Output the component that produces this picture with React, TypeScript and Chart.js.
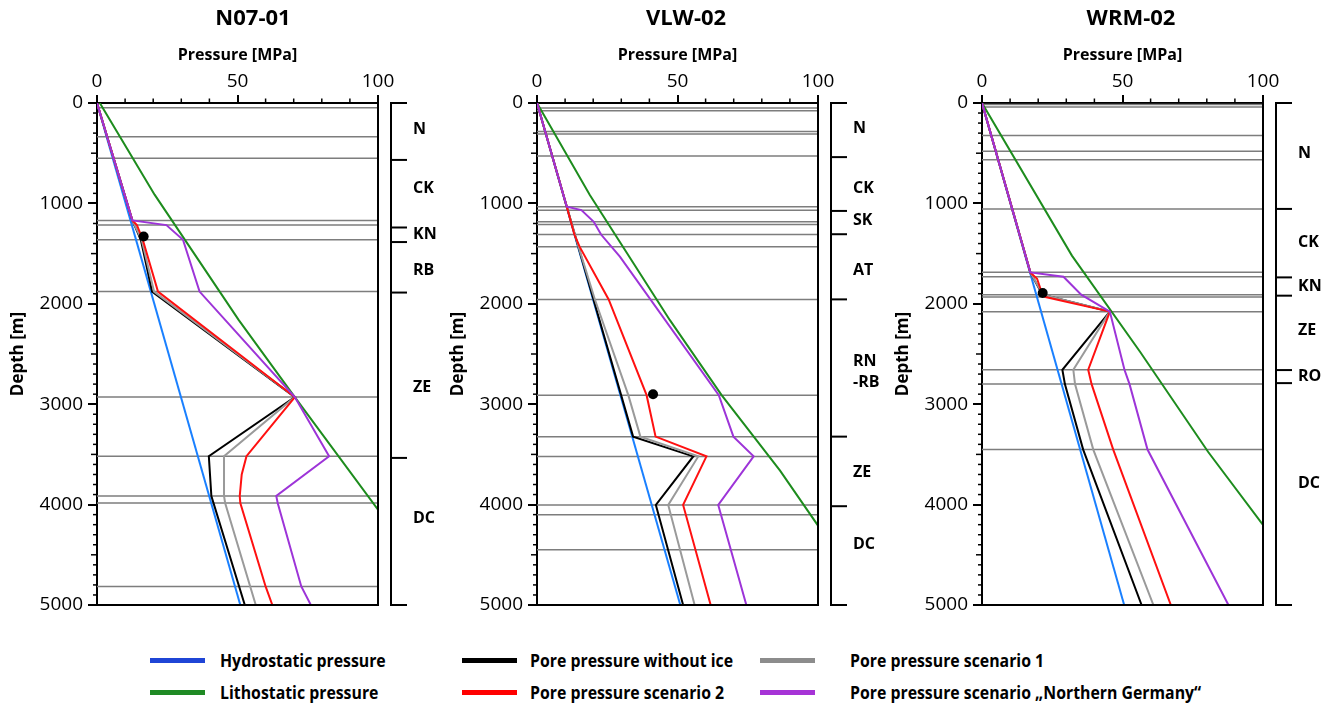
import React, { useEffect, useRef } from "react";
import { Chart, registerables } from "chart.js";

Chart.register(...registerables);

type Pt = [number, number]; // [depth m, pressure MPa]

const FONT = "'Open Sans', 'DejaVu Sans', sans-serif";
const LEGEND_FONT = "'Open Sans', sans-serif";

// ---------- N07-01 ----------
const N07_HYDRO: Pt[] = [[0, 0], [5000, 51]];
const N07_LITHO: Pt[] = [[0, 1], [913, 20.5], [2160, 50.4], [2929, 70.4], [4050, 100]];
const N07_NOICE: Pt[] = [[0, 0], [1170, 12.6], [1362, 15.6], [1878, 19.6], [2929, 70.4], [3518, 39.8], [3914, 40.7], [5000, 52.6]];
const N07_SC1: Pt[] = [[0, 0], [1170, 12.6], [1362, 15.9], [1878, 20.3], [2929, 70.4], [3518, 45.2], [3914, 45.2], [3984, 45.6], [5000, 56.5]];
const N07_SC2: Pt[] = [[0, 0], [1170, 12.6], [1216, 14.2], [1362, 16.3], [1878, 21.7], [2929, 70.4], [3518, 53.2], [3700, 51.5], [3914, 50.8], [3984, 51.0], [4815, 60.0], [5000, 62.4]];
const N07_NG: Pt[] = [[0, 0], [1170, 12.6], [1216, 24.7], [1362, 30.6], [1878, 36.5], [2929, 70.4], [3518, 82.6], [3914, 63.8], [3984, 64.3], [4815, 72.7], [5000, 76.1]];
const N07_DOT: Pt[] = [[1329, 16.6]];
const N07_LAYERS = [48, 337, 551, 1170, 1216, 1362, 1878, 2929, 3518, 3914, 3984, 4815];
const N07_BOUNDS = [0, 567, 1240, 1385, 1888, 3535, 5000];
const N07_UNITS = ["N", "CK", "KN", "RB", "ZE", "DC"];
const N07_UNIT_DEPTHS = [264, 853, 1305, 1672, 2836, 4140];

// ---------- VLW-02 ----------
const VLW_HYDRO: Pt[] = [[0, 0], [5000, 51]];
const VLW_LITHO: Pt[] = [[0, 0], [916, 18.8], [2163, 47.3], [2910, 65.7], [3661, 86.5], [4209, 100]];
const VLW_NOICE: Pt[] = [[0, 0], [1033, 10.6], [3323, 34.2], [3520, 55.6], [4003, 42.3], [5000, 52]];
const VLW_SC1: Pt[] = [[0, 0], [1033, 10.6], [1433, 14.8], [1957, 20.6], [2910, 32.5], [3323, 36.8], [3520, 57.4], [4003, 46.7], [5000, 56.1]];
const VLW_SC2: Pt[] = [[0, 0], [1033, 10.6], [1310, 13.3], [1433, 15.2], [1957, 25.5], [2910, 39], [3323, 42.2], [3520, 60.3], [4003, 52], [5000, 61.8]];
const VLW_NG: Pt[] = [[0, 0], [1033, 10.6], [1067, 15.8], [1183, 20.2], [1310, 22.8], [1531, 29.5], [2910, 64.7], [3323, 69.9], [3520, 77.1], [4003, 64.5], [5000, 74.5]];
const VLW_DOT: Pt[] = [[2901, 41.3]];
const VLW_LAYERS = [50, 77, 284, 310, 527, 1033, 1067, 1183, 1210, 1310, 1433, 1957, 2910, 3323, 3520, 4003, 4100, 4450];
const VLW_BOUNDS = [0, 539, 1075, 1307, 1956, 3323, 4016, 5000];
const VLW_UNITS = ["N", "CK", "SK", "AT", "RN\n-RB", "ZE", "DC"];
const VLW_UNIT_DEPTHS = [250, 848, 1172, 1671, 2682, 3683, 4401];

// ---------- WRM-02 ----------
const WRM_HYDRO: Pt[] = [[0, 0], [5000, 50.6]];
const WRM_LITHO: Pt[] = [[0, 0], [1520, 32], [2480, 56.3], [3476, 80.5], [4203, 100]];
const WRM_NOICE: Pt[] = [[0, 0], [1687, 17.2], [1909, 21.5], [2078, 45.5], [2657, 28.6], [2800, 29.5], [3452, 36], [5000, 56.8]];
const WRM_SC1: Pt[] = [[0, 0], [1687, 17.2], [1909, 21.7], [2078, 45.5], [2657, 32.5], [2800, 33.1], [3452, 39.6], [5000, 61]];
const WRM_SC2: Pt[] = [[0, 0], [1687, 17.2], [1750, 19.6], [1909, 21.5], [1932, 22.6], [2078, 45.5], [2657, 37.8], [2800, 39], [3452, 46.7], [5000, 67.2]];
const WRM_NG: Pt[] = [[0, 0], [1687, 17.2], [1730, 29], [1909, 35.3], [2078, 45.5], [2657, 50.7], [2800, 52.5], [3452, 58.9], [5000, 87.7]];
const WRM_DOT: Pt[] = [[1892, 21.6]];
const WRM_LAYERS = [15, 40, 324, 481, 566, 1055, 1687, 1730, 1909, 1932, 2078, 2657, 2800, 3452];
const WRM_BOUNDS = [0, 1055, 1737, 1919, 2660, 2790, 5000];
const WRM_UNITS = ["N", "CK", "KN", "ZE", "RO", "DC"];
const WRM_UNIT_DEPTHS = [506, 1391, 1830, 2261, 2727, 3787];

// ---------- axis ticks ----------
const X_TICK_STEP = 50;
const Y_TICK_STEP = 1000;
const X_MINOR_STEP = 10;
const Y_MINOR_STEP = 100;

// ---------- legend ----------
const SERIES_LABELS = [
  "Hydrostatic pressure",
  "Lithostatic pressure",
  "Pore pressure without ice",
  "Pore pressure scenario 2",
  "Pore pressure scenario 1",
  "Pore pressure scenario \u201ENorthern Germany\u201C",
];

const COLORS = {
  blue: "#1a80ff",
  green: "#1d8c1d",
  black: "#000000",
  gray: "#9a9a9a",
  red: "#ff1010",
  purple: "#9d34d8",
};
const LEGEND_COLORS = ["#1f45d6", "#1f8a24", "#000000", "#ff0000", "#8c8c8c", "#a633d6"];

type Panel = {
  name: string;
  left: number;
  rightSpace: number;
  hydro: Pt[];
  litho: Pt[];
  noIce: Pt[];
  sc1: Pt[];
  sc2: Pt[];
  ng: Pt[];
  dot: Pt[];
  layers: number[];
  bounds: number[];
  units: string[];
  unitDepths: number[];
};

const PANELS: Panel[] = [
  { name: "N07-01", left: 0, rightSpace: 128, hydro: N07_HYDRO, litho: N07_LITHO, noIce: N07_NOICE, sc1: N07_SC1, sc2: N07_SC2, ng: N07_NG, dot: N07_DOT, layers: N07_LAYERS, bounds: N07_BOUNDS, units: N07_UNITS, unitDepths: N07_UNIT_DEPTHS },
  { name: "VLW-02", left: 440, rightSpace: 114, hydro: VLW_HYDRO, litho: VLW_LITHO, noIce: VLW_NOICE, sc1: VLW_SC1, sc2: VLW_SC2, ng: VLW_NG, dot: VLW_DOT, layers: VLW_LAYERS, bounds: VLW_BOUNDS, units: VLW_UNITS, unitDepths: VLW_UNIT_DEPTHS },
  { name: "WRM-02", left: 885, rightSpace: 114, hydro: WRM_HYDRO, litho: WRM_LITHO, noIce: WRM_NOICE, sc1: WRM_SC1, sc2: WRM_SC2, ng: WRM_NG, dot: WRM_DOT, layers: WRM_LAYERS, bounds: WRM_BOUNDS, units: WRM_UNITS, unitDepths: WRM_UNIT_DEPTHS },
];

const CANVAS_H = 620;

function toXY(pts: Pt[]) {
  return pts.map(([d, p]) => ({ x: p, y: d }));
}

function lineDs(label: string, pts: Pt[], color: string) {
  return {
    label,
    data: toXY(pts),
    showLine: true,
    borderColor: color,
    backgroundColor: color,
    borderWidth: 2,
    pointRadius: 0,
    pointHoverRadius: 0,
    tension: 0,
    fill: false,
  };
}

function decor(p: Panel) {
  return {
    id: "decor",
    beforeDatasetsDraw(chart: any) {
      const { ctx, chartArea: a, scales } = chart;
      const y = scales.y;
      ctx.save();
      ctx.strokeStyle = "#7d7d7d";
      ctx.lineWidth = 1.5;
      for (const d of p.layers) {
        const py = y.getPixelForValue(d);
        ctx.beginPath();
        ctx.moveTo(a.left, py);
        ctx.lineTo(a.right, py);
        ctx.stroke();
      }
      ctx.restore();
    },
    afterDraw(chart: any) {
      const { ctx, chartArea: a, scales } = chart;
      const x = scales.x;
      const y = scales.y;
      ctx.save();
      ctx.strokeStyle = "#000";
      ctx.lineWidth = 2;
      // right and bottom frame
      ctx.beginPath();
      ctx.moveTo(a.right, a.top - 1);
      ctx.lineTo(a.right, a.bottom);
      ctx.lineTo(a.left - 1, a.bottom);
      ctx.stroke();
      // minor ticks
      ctx.lineWidth = 1.5;
      for (let v = X_MINOR_STEP; v < 100; v += X_MINOR_STEP) {
        if (v % X_TICK_STEP === 0) continue;
        const px = x.getPixelForValue(v);
        ctx.beginPath();
        ctx.moveTo(px, a.top);
        ctx.lineTo(px, a.top - 4.5);
        ctx.stroke();
      }
      for (let v = Y_MINOR_STEP; v < 5000; v += Y_MINOR_STEP) {
        if (v % Y_TICK_STEP === 0) continue;
        const py = y.getPixelForValue(v);
        const len = v % 500 === 0 ? 6 : 4;
        ctx.beginPath();
        ctx.moveTo(a.left, py);
        ctx.lineTo(a.left - len, py);
        ctx.stroke();
      }
      // stratigraphic column
      const cx = a.right + 13;
      ctx.lineWidth = 2;
      ctx.beginPath();
      ctx.moveTo(cx, y.getPixelForValue(0));
      ctx.lineTo(cx, y.getPixelForValue(5000));
      ctx.stroke();
      for (const b of p.bounds) {
        const py = y.getPixelForValue(b);
        ctx.beginPath();
        ctx.moveTo(cx - 1, py);
        ctx.lineTo(a.right + 29, py);
        ctx.stroke();
      }
      ctx.fillStyle = "#000";
      ctx.font = `bold 16px ${FONT}`;
      ctx.textAlign = "left";
      ctx.textBaseline = "middle";
      p.units.forEach((u, i) => {
        const py = y.getPixelForValue(p.unitDepths[i]);
        const lines = u.split("\n");
        lines.forEach((ln, j) => {
          ctx.fillText(ln, a.right + 35, py + (j - (lines.length - 1) / 2) * 21);
        });
      });
      ctx.restore();
    },
  };
}

function PanelChart({ p }: { p: Panel }) {
  const ref = useRef<HTMLCanvasElement | null>(null);
  useEffect(() => {
    if (!ref.current) return;
    const chart = new Chart(ref.current, {
      type: "scatter",
      data: {
        datasets: [
          {
            label: "Measurement",
            data: toXY(p.dot),
            showLine: false,
            pointRadius: 5,
            pointBackgroundColor: "#000",
            pointBorderColor: "#000",
            pointBorderWidth: 0,
          } as any,
          lineDs(SERIES_LABELS[5], p.ng, COLORS.purple),
          lineDs(SERIES_LABELS[3], p.sc2, COLORS.red),
          lineDs(SERIES_LABELS[4], p.sc1, COLORS.gray),
          lineDs(SERIES_LABELS[2], p.noIce, COLORS.black),
          lineDs(SERIES_LABELS[0], p.hydro, COLORS.blue),
          lineDs(SERIES_LABELS[1], p.litho, COLORS.green),
        ],
      },
      options: {
        responsive: false,
        animation: false,
        events: [],
        layout: { padding: { left: 0, right: 0, top: 0, bottom: CANVAS_H - 605 } },
        plugins: {
          legend: { display: false },
          tooltip: { enabled: false },
          title: {
            display: true,
            text: p.name,
            color: "#000",
            font: { family: FONT, size: 22, weight: "bold" },
            padding: { top: 6, bottom: 0 },
          },
        },
        scales: {
          x: {
            type: "linear",
            position: "top",
            min: 0,
            max: 100,
            ticks: {
              stepSize: X_TICK_STEP,
              color: "#000",
              font: { family: FONT, size: 19 },
              padding: 2,
              callback: (v: any) => String(v),
            },
            grid: { drawOnChartArea: false, drawTicks: true, tickLength: 8, color: "#000", lineWidth: 2 },
            border: { display: true, color: "#000", width: 2 },
            title: {
              display: true,
              text: "Pressure [MPa]",
              color: "#000",
              font: { family: FONT, size: 16, weight: "bold" },
              padding: { top: 13, bottom: 0 },
            },
            afterFit: (s: any) => {
              s.height = 70.6;
              s.paddingLeft = 0;
              s.paddingRight = 0;
            },
          },
          y: {
            type: "linear",
            position: "left",
            reverse: true,
            min: 0,
            max: 5000,
            ticks: {
              stepSize: Y_TICK_STEP,
              color: "#000",
              font: { family: FONT, size: 19 },
              padding: 5,
              callback: (v: any) => String(v),
            },
            grid: { drawOnChartArea: false, drawTicks: true, tickLength: 9, color: "#000", lineWidth: 2 },
            border: { display: true, color: "#000", width: 2 },
            title: {
              display: true,
              text: "Depth [m]",
              color: "#000",
              font: { family: FONT, size: 17, weight: "bold" },
              padding: { top: 8, bottom: 0 },
            },
            afterFit: (s: any) => {
              s.width = 97;
              s.paddingTop = 0;
              s.paddingBottom = 0;
            },
          },
          yr: {
            type: "linear",
            axis: "y",
            position: "right",
            display: true,
            grid: { display: false, drawTicks: false },
            ticks: { display: false },
            border: { display: false },
            afterFit: (s: any) => {
              s.width = p.rightSpace;
              s.paddingTop = 0;
              s.paddingBottom = 0;
            },
          },
        },
      } as any,
      plugins: [decor(p)],
    });
    return () => chart.destroy();
  }, [p]);
  const width = 97 + 281 + p.rightSpace;
  return (
    <canvas
      ref={ref}
      width={width}
      height={CANVAS_H}
      style={{ position: "absolute", left: p.left, top: 0, width, height: CANVAS_H, display: "block" }}
    />
  );
}

const LEGEND_ITEMS = [
  { i: 0, sx: 150, tx: 220, cy: 660 },
  { i: 1, sx: 150, tx: 220, cy: 692 },
  { i: 2, sx: 462, tx: 530, cy: 660 },
  { i: 3, sx: 462, tx: 530, cy: 692 },
  { i: 4, sx: 760, tx: 850, cy: 660 },
  { i: 5, sx: 760, tx: 850, cy: 692 },
];

export default function App() {
  return (
    <div
      style={{
        position: "absolute",
        left: 0,
        top: 0,
        width: 1333,
        height: 706,
        overflow: "hidden",
        background: "#fff",
      }}
    >
      {PANELS.map((p) => (
        <PanelChart key={p.name} p={p} />
      ))}
      {LEGEND_ITEMS.map((it) => (
        <React.Fragment key={it.i}>
          <div
            style={{
              position: "absolute",
              left: it.sx,
              top: it.cy - 2.5,
              width: 55,
              height: 5,
              background: LEGEND_COLORS[it.i],
            }}
          />
          <div
            style={{
              position: "absolute",
              left: it.tx,
              top: it.cy - 13,
              height: 26,
              lineHeight: "26px",
              fontFamily: LEGEND_FONT,
              fontWeight: 700,
              fontSize: 18,
              color: "#000",
              whiteSpace: "nowrap",
              transform: "scaleX(0.88)",
              transformOrigin: "left center",
            }}
          >
            {SERIES_LABELS[it.i]}
          </div>
        </React.Fragment>
      ))}
    </div>
  );
}
